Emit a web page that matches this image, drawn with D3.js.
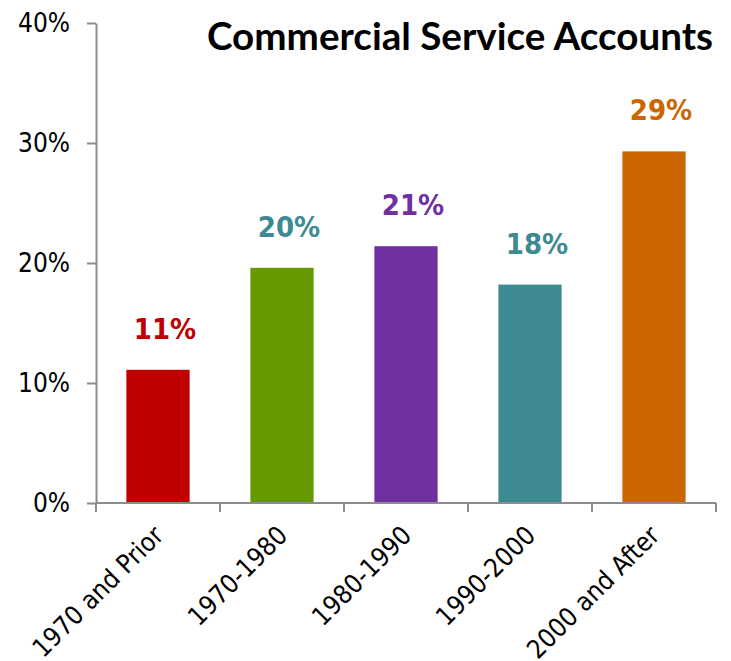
<!DOCTYPE html>
<html>
<head>
<meta charset="utf-8">
<script src="https://cdn.jsdelivr.net/npm/d3@7"></script>
<style>
  html, body { margin: 0; padding: 0; background: #fff; }
  svg { display: block; }
  .cond { font-family: 'DejaVu Sans', sans-serif; font-stretch: condensed; }
</style>
</head>
<body>
<svg id="chart" width="731" height="661"></svg>
<script>
// Share of commercial service accounts by construction period
const categories = ["1970 and Prior", "1970-1980", "1980-1990", "1990-2000", "2000 and After"];
const shares = [0.111, 0.196, 0.214, 0.182, 0.293];
const barColors = ["#C00000", "#669900", "#7030A0", "#3E8A92", "#CC6600"];
const labelColors = ["#C00000", "#3E8A92", "#7030A0", "#3E8A92", "#CC6600"];
const yTicks = [0, 0.1, 0.2, 0.3, 0.4];
const title = "Commercial Service Accounts";

const svg = d3.select("#chart");
const axisColor = "#8C8C8C";

const x = d3.scaleBand()
  .domain(categories)
  .range([96, 716])
  .paddingInner(0.49)
  .paddingOuter(0.245);

const y = d3.scaleLinear()
  .domain([0, 0.4])
  .range([503, 23]);

// Bars
svg.append("g")
  .selectAll("rect")
  .data(categories)
  .join("rect")
  .attr("x", d => x(d))
  .attr("y", (d, i) => y(shares[i]))
  .attr("width", x.bandwidth())
  .attr("height", (d, i) => y(0) - y(shares[i]))
  .attr("fill", (d, i) => barColors[i]);

// Y axis
const yAxis = svg.append("g")
  .attr("transform", "translate(96,0)")
  .call(d3.axisLeft(y)
    .tickValues(yTicks)
    .tickFormat(d3.format(".0%"))
    .tickSize(9)
    .tickSizeOuter(0)
    .tickPadding(17));
yAxis.select(".domain").attr("stroke", axisColor).attr("stroke-width", 2);
yAxis.selectAll(".tick line").attr("stroke", axisColor).attr("stroke-width", 2);
yAxis.selectAll(".tick text")
  .attr("class", "cond")
  .attr("fill", "#000")
  .style("font-size", "26px");
yAxis.attr("font-family", null);

// X axis baseline with ticks on band boundaries
const xAxis = svg.append("g");
xAxis.append("line")
  .attr("x1", x.range()[0]).attr("x2", x.range()[1])
  .attr("y1", y(0)).attr("y2", y(0))
  .attr("stroke", axisColor).attr("stroke-width", 2);
const bounds = d3.range(categories.length + 1).map(i => x.range()[0] + i * x.step());
xAxis.selectAll("line.sep")
  .data(bounds)
  .join("line")
  .attr("class", "sep")
  .attr("x1", d => d).attr("x2", d => d)
  .attr("y1", y(0)).attr("y2", y(0) + 9)
  .attr("stroke", axisColor).attr("stroke-width", 2);

// Rotated category labels
xAxis.selectAll("text")
  .data(categories)
  .join("text")
  .attr("class", "cond")
  .attr("transform", d => `translate(${x(d) + x.bandwidth() / 2 + 7},${y(0) + 34}) rotate(-45)`)
  .attr("text-anchor", "end")
  .style("font-size", "26px")
  .attr("fill", "#000")
  .text(d => d);

// Value labels above bars
svg.append("g")
  .selectAll("text")
  .data(categories)
  .join("text")
  .attr("class", "cond")
  .attr("x", d => x(d) + x.bandwidth() / 2 + 7)
  .attr("y", (d, i) => y(shares[i]) - 31)
  .attr("text-anchor", "middle")
  .style("font-weight", "bold")
  .style("font-size", "29px")
  .attr("fill", (d, i) => labelColors[i])
  .text((d, i) => d3.format(".0%")(shares[i]));

// Title, sized to span its slot
const t = svg.append("text")
  .attr("x", 207)
  .attr("y", 50)
  .style("font-family", "Lato, 'Open Sans', sans-serif")
  .style("font-weight", "bold")
  .style("font-size", "40px")
  .attr("fill", "#000")
  .text(title);
const w = t.node().getComputedTextLength();
t.style("font-size", (40 * 506 / w) + "px");
</script>
</body>
</html>
